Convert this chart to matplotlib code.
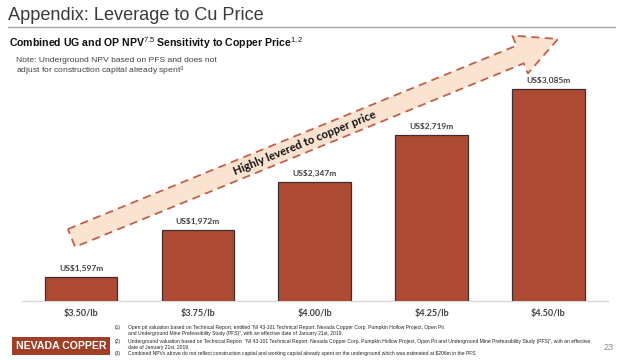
import matplotlib
matplotlib.use('Agg')
import matplotlib.pyplot as plt
from matplotlib.patches import Polygon, Rectangle
from matplotlib.lines import Line2D
import numpy as np

# data
PRICES = ['$3.50/lb', '$3.75/lb', '$4.00/lb', '$4.25/lb', '$4.50/lb']
NPV = [1597, 1972, 2347, 2719, 3085]
LABELS = ['US$1,597m', 'US$1,972m', 'US$2,347m', 'US$2,719m', 'US$3,085m']

FOOTNOTES = [
    ('(1)', 'Open pit valuation based on Technical Report, entitled \u201cNI 43-101 Technical Report: Nevada Copper Corp. Pumpkin Hollow Project, Open Pit'),
    ('', 'and Underground Mine Prefeasibility Study (PFS)\u201d, with an effective date of January 21st, 2019.'),
    ('(2)', 'Underground valuation based on Technical Report  \u201cNI 43-101 Technical Report: Nevada Copper Corp. Pumpkin Hollow Project, Open Pit and Underground Mine Prefeasibility Study (PFS)\u201d, with an effective'),
    ('', 'date of January 21st, 2019.'),
    ('(3)', 'Combined NPVs above do not reflect construction capital and working capital already spent on the underground which was estimated at $206m in the PFS'),
]

BAR_COLOR = '#ad4a33'
TEXT_GRAY = '#404040'
W, H = 624, 360

plt.rcParams.update({
    'mathtext.fontset': 'custom',
    'mathtext.rm': 'Liberation Sans',
    'mathtext.it': 'Liberation Sans',
    'mathtext.bf': 'Liberation Sans:bold',
})

fig = plt.figure(figsize=(6.24, 3.60), dpi=100)


def fx(px):
    return px / W


def fy(py):
    return 1 - py / H


# header
fig.text(fx(8), fy(15), 'Appendix: Leverage to Cu Price', fontsize=13.1,
         family='Liberation Sans', color='#3a3a3a', va='center', ha='left')
fig.add_artist(Line2D([fx(8), fx(615)], [fy(27), fy(27)], color='#a6a6a6', lw=1.0,
                      transform=fig.transFigure))
fig.text(fx(9), fy(43), r'Combined UG and OP NPV$^{7.5}$ Sensitivity to Copper Price$^{1,2}$',
         fontsize=7.6, family='Liberation Sans', fontweight='bold', color='#111111',
         va='center', ha='left')
fig.text(fx(16), fy(60), 'Note: Underground NPV based on PFS and does not', fontsize=6.1,
         family='Liberation Sans', color=TEXT_GRAY, va='center')
fig.text(fx(16), fy(71), r'adjust for construction capital already spent$^{3}$', fontsize=6.1,
         family='Liberation Sans', color=TEXT_GRAY, va='center')

# bars
ax = fig.add_axes([fx(22), fy(301), fx(608) - fx(22), fy(30) - fy(301)])
x = np.arange(len(PRICES))
ax.bar(x, NPV, 0.62, color=BAR_COLOR, edgecolor='#3b2e2c', linewidth=0.9, zorder=3)
ax.set_xlim(-0.505, 4.51)
ax.set_ylim(1407, 3553)
for i, (v, lab) in enumerate(zip(NPV, LABELS)):
    ax.annotate(lab, (i, v), xytext=(0, 3.5), textcoords='offset points', ha='center',
                va='bottom', fontsize=6, fontweight='bold', family='Lato', color=TEXT_GRAY)
ax.set_xticks(x)
ax.set_xticklabels(PRICES, fontsize=6.5, fontweight='bold', family='Lato', color=TEXT_GRAY)
ax.tick_params(axis='x', length=0, pad=6)
ax.set_yticks([])
for s in ['top', 'left', 'right']:
    ax.spines[s].set_visible(False)
ax.spines['bottom'].set_color('#d9d9d9')
ax.spines['bottom'].set_linewidth(1.0)
ax.patch.set_visible(False)

# arrow (pixel geometry)
tail = np.array([71.5, 238.0])
tip = np.array([558.0, 39.0])
d = tip - tail
L = np.hypot(*d)
u = d / L
n = np.array([u[1], -u[0]])  # perpendicular
sw, hw, hl = 9.6, 20.5, 41.0
base = tip - u * hl
pts = [tail + n * sw, base + n * sw, base + n * hw, tip, base - n * hw, base - n * sw, tail - n * sw]
pts = [(fx(p[0]), fy(p[1])) for p in pts]
fig.add_artist(Polygon(pts, closed=True, facecolor='#fbe3d2', edgecolor='#c0604a',
                       linestyle=(0, (4.5, 3)), linewidth=1.3, transform=fig.transFigure,
                       zorder=1))
ang = np.degrees(np.arctan2(-d[1], d[0]))
fig.text(fx(305), fy(143), 'Highly levered to copper price', rotation=ang, rotation_mode='anchor',
         ha='center', va='center', fontsize=8.2, fontweight='bold', family='Lato',
         color='#111111', zorder=5)

# logo
fig.add_artist(Rectangle((fx(12), fy(355)), fx(110) - fx(12), fy(337) - fy(355),
                         facecolor='#9f3f27', edgecolor='none', transform=fig.transFigure))
fig.text(fx(61), fy(346), 'NEVADA COPPER', fontsize=7.6, fontweight='bold', color='white',
         family='Liberation Sans', ha='center', va='center')

# footnotes
ys = [328, 333.5, 341, 347, 353]
for yy, (num, txt) in zip(ys, FOOTNOTES):
    if num:
        fig.text(fx(115), fy(yy), num, fontsize=3.6, color='#222222', va='center',
                 family='Liberation Sans')
    fig.text(fx(128), fy(yy), txt, fontsize=3.6, color='#222222', va='center',
             family='Liberation Sans')
fig.text(fx(609), fy(348), '23', fontsize=6.5, color='#8c8c8c', ha='center', va='center',
         family='Liberation Sans')

fig.savefig('out.png', dpi=100)
